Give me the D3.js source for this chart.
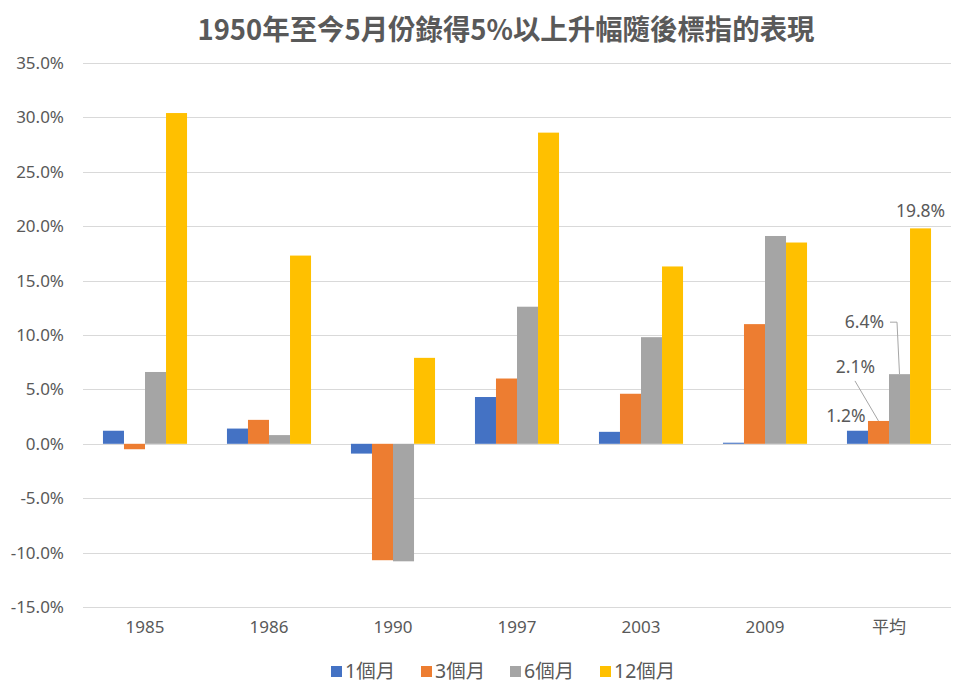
<!DOCTYPE html>
<html><head><meta charset="utf-8">
<script src="https://cdn.jsdelivr.net/npm/d3@7"></script>
<style>
body{margin:0;background:#fff;}
text{font-family:"Noto Sans","Noto Sans CJK TC",sans-serif;fill:#595959;}
</style></head><body>
<svg id="c" width="963" height="689"></svg>
<script>
const title = "1950年至今5月份錄得5%以上升幅隨後標指的表現";
const categories = ["1985","1986","1990","1997","2003","2009","平均"];
const seriesNames = ["1個月","3個月","6個月","12個月"];
const s1m  = [1.2, 1.4, -0.9, 4.3, 1.1, 0.1, 1.2];
const s3m  = [-0.5, 2.2, -10.7, 6.0, 4.6, 11.0, 2.1];
const s6m  = [6.6, 0.8, -10.8, 12.6, 9.8, 19.1, 6.4];
const s12m = [30.4, 17.3, 7.9, 28.6, 16.3, 18.5, 19.8];
const yTicks = [-15,-10,-5,0,5,10,15,20,25,30,35];
const colors = ["#4472C4","#ED7D31","#A5A5A5","#FFC000"];
const seriesVals = [s1m,s3m,s6m,s12m];

const svg = d3.select("#c");
const x = d3.scaleBand().domain(categories).range([83,951]).padding(0);
const bw = x.bandwidth();
const xi = d3.scaleBand().domain(seriesNames).range([bw*0.161, bw*0.839]).padding(0);
const y = d3.scaleLinear().domain([-15,35]).range([607,63]);

// title
svg.append("text").attr("x",506).attr("y",40).attr("text-anchor","middle")
  .attr("font-size",28).attr("font-weight","bold")
  .attr("textLength",617).attr("lengthAdjust","spacingAndGlyphs")
  .style("font-family","'Noto Sans CJK TC','Noto Sans',sans-serif")
  .text(title);

// grid
svg.append("g").selectAll("line").data(yTicks).join("line")
  .attr("x1",83).attr("x2",951)
  .attr("y1",d=>Math.round(y(d))+0.5).attr("y2",d=>Math.round(y(d))+0.5)
  .attr("stroke","#d9d9d9").attr("stroke-width",1);

// y axis labels
const yAxis = d3.axisLeft(y).tickValues(yTicks).tickSize(0).tickPadding(0)
  .tickFormat(d=>d.toFixed(1)+"%");
const gy = svg.append("g").attr("transform","translate(64,0)").call(yAxis);
gy.select(".domain").remove();
gy.selectAll("text").attr("font-size",17).style("fill","#595959")
  .style("font-family","'Noto Sans',sans-serif");

// x axis labels
const xAxis = d3.axisBottom(x).tickSize(0).tickPadding(0);
const gx = svg.append("g").attr("transform","translate(0,621)").call(xAxis);
gx.select(".domain").remove();
gx.selectAll("text").attr("font-size",17).style("fill","#595959")
  .style("font-family","'Noto Sans','Noto Sans CJK TC',sans-serif");

// bars
seriesNames.forEach((s,si)=>{
  svg.append("g").selectAll("rect").data(categories.map((c,i)=>({c,v:seriesVals[si][i]})))
    .join("rect")
    .attr("x",d=>x(d.c)+xi(s))
    .attr("width",xi.bandwidth())
    .attr("y",d=>Math.min(y(d.v),y(0)))
    .attr("height",d=>Math.max(0.8,Math.abs(y(d.v)-y(0))))
    .attr("fill",colors[si]);
});

// data labels for 平均
const avg = "平均";
const ai = categories.indexOf(avg);
const bx = s => x(avg)+xi(s);
const bwi = xi.bandwidth();
const lab = svg.append("g").attr("font-size",17.5);
const fmt = v=>v.toFixed(1)+"%";
// 1個月
lab.append("text").attr("x",bx("1個月")-1).attr("y",y(s1m[ai])-9)
  .attr("text-anchor","middle").text(fmt(s1m[ai]));
// 3個月 with leader
lab.append("text").attr("x",bx("3個月")-12.5).attr("y",y(s3m[ai])-48)
  .attr("text-anchor","middle").text(fmt(s3m[ai]));
svg.append("line").attr("x1",bx("3個月")-13).attr("y1",y(s3m[ai])-40)
  .attr("x2",bx("3個月")+bwi/2).attr("y2",y(s3m[ai]))
  .attr("stroke","#a6a6a6").attr("stroke-width",1);
// 6個月 with leader
lab.append("text").attr("x",bx("6個月")-24.5).attr("y",y(s6m[ai])-46)
  .attr("text-anchor","middle").text(fmt(s6m[ai]));
svg.append("polyline")
  .attr("points",[[bx("6個月")+1,y(s6m[ai])-52],[bx("6個月")+8,y(s6m[ai])-52],[bx("6個月")+bwi/2,y(s6m[ai])]].map(p=>p.join(",")).join(" "))
  .attr("fill","none").attr("stroke","#a6a6a6").attr("stroke-width",1);
// 12個月
lab.append("text").attr("x",bx("12個月")+bwi/2).attr("y",y(s12m[ai])-11)
  .attr("text-anchor","middle").text(fmt(s12m[ai]));

// legend
const legX = [331,421,510,600];
const leg = svg.append("g");
seriesNames.forEach((s,i)=>{
  leg.append("rect").attr("x",legX[i]).attr("y",666).attr("width",11).attr("height",11).attr("fill",colors[i]);
  leg.append("text").attr("x",legX[i]+14).attr("y",678).attr("font-size",19.5)
    .style("font-family","'Noto Sans','Noto Sans CJK TC',sans-serif").text(s);
});
</script>
</body></html>
